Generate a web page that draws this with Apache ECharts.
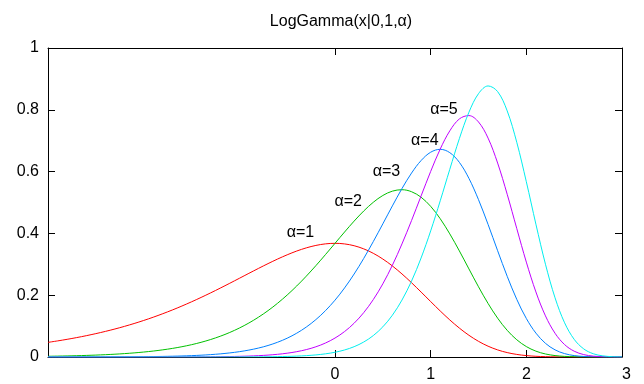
<!DOCTYPE html>
<html>
<head>
<meta charset="utf-8">
<script src="https://cdn.jsdelivr.net/npm/echarts@6/dist/echarts.min.js"></script>
<style>html,body{margin:0;padding:0;background:#fff}#c{width:644px;height:384px}</style>
</head>
<body>
<div id="c"></div>
<script>
const xValues = [-3.0,-2.9,-2.8,-2.7,-2.6,-2.5,-2.4,-2.3,-2.2,-2.1,-2.0,-1.9,-1.8,-1.7,-1.6,-1.5,-1.4,-1.3,-1.2,-1.1,-1.0,-0.9,-0.8,-0.7,-0.6,-0.5,-0.4,-0.3,-0.2,-0.1,0.0,0.1,0.2,0.3,0.4,0.5,0.6,0.7,0.8,0.9,1.0,1.1,1.2,1.3,1.4,1.5,1.6,1.7,1.8,1.9,2.0,2.1,2.2,2.3,2.4,2.5,2.6,2.7,2.8,2.9,3.0];
const alpha1 = [0.04737,0.05207,0.05722,0.06284,0.06895,0.07561,0.08285,0.09070,0.09918,0.10835,0.11821,0.12879,0.14012,0.15218,0.16499,0.17851,0.19271,0.20752,0.22286,0.23862,0.25465,0.27075,0.28670,0.30222,0.31702,0.33070,0.34290,0.35317,0.36105,0.36611,0.36788,0.36599,0.36009,0.34999,0.33560,0.31704,0.29460,0.26884,0.24036,0.21020,0.17938,0.14895,0.11999,0.09357,0.07030,0.05070,0.03498,0.02296,0.01427,0.008346,0.004567,0.002320,0.001086,0.000465,0.000180,0.0000624,0.0000191,0.0000051,0.0000012,0.0000002,0.0];
const alpha2 = [0.002359,0.002865,0.003480,0.004224,0.005121,0.006206,0.007516,0.009094,0.010989,0.013269,0.015999,0.019263,0.023162,0.027800,0.033311,0.039831,0.047522,0.056555,0.067123,0.079430,0.093681,0.11008,0.12882,0.15008,0.17398,0.20058,0.22985,0.26164,0.29560,0.33127,0.36788,0.40448,0.43981,0.47244,0.50065,0.52271,0.53680,0.54138,0.53493,0.51701,0.48760,0.44747,0.39838,0.34334,0.28508,0.22722,0.17326,0.12568,0.08633,0.05580,0.033743,0.018946,0.009804,0.004635,0.001983,0.000760,0.000258,0.0000764,0.0000195,0.0000042,0.0000008];
const alpha3 = [0.0000587,0.0000788,0.0001058,0.0001420,0.0001902,0.0002547,0.0003409,0.0004559,0.0006088,0.0008125,0.0010826,0.0014406,0.0019143,0.0025393,0.0033627,0.0044438,0.0058594,0.0077064,0.010108,0.013220,0.017232,0.022378,0.028942,0.037264,0.047741,0.060829,0.077036,0.096914,0.12101,0.14987,0.18394,0.22351,0.26859,0.31886,0.37344,0.43090,0.48906,0.54510,0.59526,0.63582,0.66272,0.67214,0.66134,0.62991,0.57803,0.50916,0.42908,0.34398,0.26114,0.18654,0.12466,0.077358,0.044239,0.023114,0.010929,0.004628,0.001735,0.000568,0.000160,0.0000384,0.0000077];
const alpha4 = [0.000001,0.0000014,0.0000021,0.0000032,0.0000047,0.0000070,0.0000103,0.0000152,0.0000225,0.0000332,0.0000488,0.0000718,0.0001055,0.0001546,0.0002263,0.0003305,0.0004816,0.0007001,0.0010148,0.0014668,0.0021131,0.0030327,0.0043348,0.0061683,0.0087336,0.012298,0.017213,0.023932,0.033025,0.045203,0.061313,0.082339,0.10935,0.14347,0.18570,0.23681,0.29704,0.36590,0.44159,0.52129,0.60049,0.67307,0.73191,0.77044,0.78133,0.76063,0.70842,0.62764,0.52660,0.41573,0.30704,0.21057,0.13309,0.076848,0.040158,0.018794,0.007786,0.0028187,0.0008793,0.0002326,0.0000513];
const alpha5 = [0.0,0.0,0.0000001,0.0000001,0.0000001,0.0000001,0.0000002,0.0000004,0.0000006,0.000001,0.0000017,0.0000027,0.0000044,0.0000071,0.0000114,0.0000184,0.0000297,0.0000477,0.0000764,0.000122,0.000194,0.000308,0.000487,0.000766,0.001198,0.001865,0.002885,0.004432,0.006760,0.010226,0.015328,0.022749,0.033390,0.048416,0.069258,0.097607,0.13531,0.18421,0.24570,0.32054,0.40807,0.50550,0.60751,0.70675,0.79211,0.85222,0.87721,0.85892,0.79644,0.69488,0.56719,0.42989,0.30028,0.19162,0.11067,0.05724,0.026208,0.010485,0.003615,0.001057,0.000258];
const seriesNames = ['α=1','α=2','α=3','α=4','α=5'];
const seriesColors = ['#ff0000','#00c000','#0080ff','#c000ff','#00eeee'];
const labelX = [-0.5, 0.0, 0.4, 0.8, 1.0];
const labelY = [0.4, 0.5, 0.6, 0.7, 0.8];
const xTickValues = [0, 1, 2, 3];
const yTickValues = [0, 0.2, 0.4, 0.6, 0.8, 1];
const titleText = 'LogGamma(x|0,1,α)';

const allSeries = [alpha1, alpha2, alpha3, alpha4, alpha5];
const FONT = 'Liberation Sans, Arial, sans-serif';
const FS = 16;
const chart = echarts.init(document.getElementById('c'), null, {renderer: 'canvas'});

const lineSeries = allSeries.map((arr, i) => ({
  name: seriesNames[i],
  type: 'line',
  data: xValues.map((x, j) => [x, arr[j]]),
  showSymbol: false,
  smooth: 0.35,
  lineStyle: {color: seriesColors[i], width: 1},
  itemStyle: {color: seriesColors[i]},
  animation: false,
  z: 3
}));

const labelSeries = {
  type: 'scatter',
  data: labelX.map((x, i) => ({value: [x, labelY[i]], name: seriesNames[i]})),
  symbol: 'circle',
  symbolSize: 1,
  itemStyle: {color: 'rgba(0,0,0,0)'},
  label: {
    show: true,
    position: [0, 0],
    align: 'left',
    verticalAlign: 'middle',
    formatter: p => p.name,
    fontFamily: FONT,
    fontSize: FS,
    color: '#000',
    opacity: 1
  },
  silent: true,
  animation: false,
  z: 5
};

const tickStyle = {lineStyle: {color: '#000', width: 1}};
const xAxisBase = {
  type: 'value', min: -3, max: 3, interval: 1,
  axisLine: {show: true, onZero: false, lineStyle: {color: '#000', width: 1}},
  splitLine: {show: false}
};
const yAxisBase = {
  type: 'value', min: 0, max: 1, interval: 0.2,
  axisLine: {show: true, onZero: false, lineStyle: {color: '#000', width: 1}},
  splitLine: {show: false}
};

chart.setOption({
  backgroundColor: '#fff',
  animation: false,
  title: {
    text: titleText, left: 336, top: 9, textAlign: 'center',
    textStyle: {fontFamily: FONT, fontSize: FS, fontWeight: 'normal', color: '#000'}
  },
  grid: {left: 48, right: 22, top: 48, bottom: 27, containLabel: false, outerBoundsMode: 'none'},
  xAxis: [
    Object.assign({}, xAxisBase, {
      position: 'bottom',
      axisTick: Object.assign({show: true, inside: true, length: 7, customValues: [0,1,2]}, tickStyle),
      axisLabel: {show: true, margin: 10, showMinLabel: true, showMaxLabel: true, hideOverlap: false, alignMaxLabel: 'left', fontFamily: FONT, fontSize: FS, color: '#000',
        formatter: v => (xTickValues.indexOf(v) >= 0 ? String(v) : '')}
    }),
    Object.assign({}, xAxisBase, {
      position: 'top',
      axisTick: Object.assign({show: true, inside: true, length: 7, customValues: [0,1,2]}, tickStyle),
      axisLabel: {show: false}
    })
  ],
  yAxis: [
    Object.assign({}, yAxisBase, {
      position: 'left',
      axisTick: Object.assign({show: true, inside: true, length: 7, customValues: [0.2,0.4,0.6,0.8]}, tickStyle),
      axisLabel: {show: true, customValues: yTickValues, margin: 9, fontFamily: FONT, fontSize: FS, color: '#000', formatter: v => String(Math.round(v*10)/10)}
    }),
    Object.assign({}, yAxisBase, {
      position: 'right',
      axisTick: Object.assign({show: true, inside: true, length: 7, customValues: [0.2,0.4,0.6,0.8]}, tickStyle),
      axisLabel: {show: false}
    })
  ],
  series: lineSeries.concat([labelSeries])
});
</script>
</body>
</html>
